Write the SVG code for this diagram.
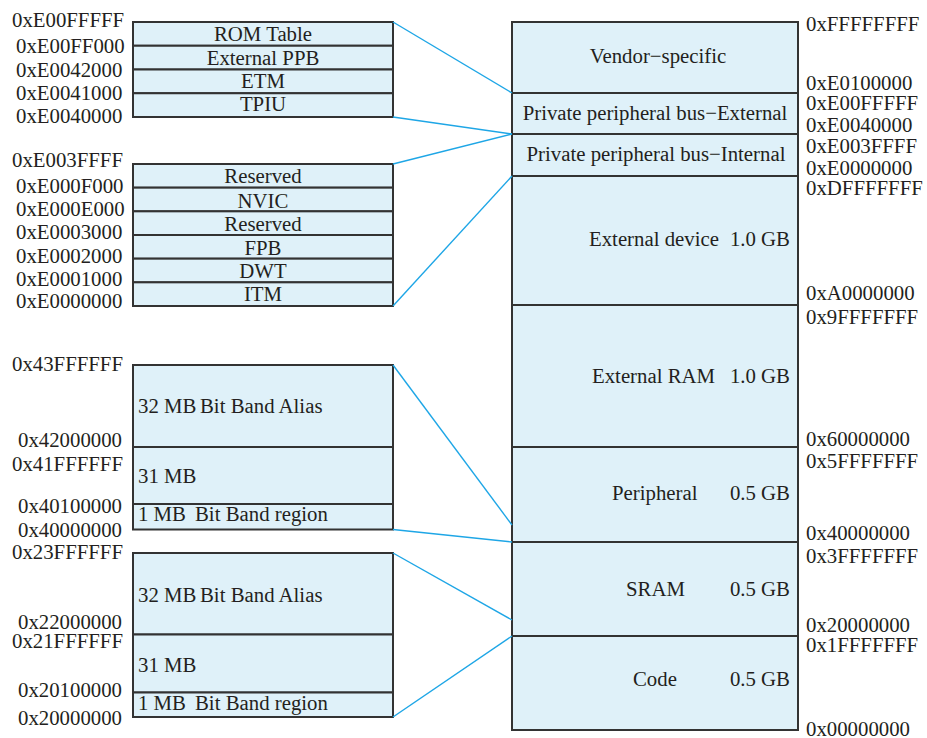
<svg xmlns="http://www.w3.org/2000/svg" width="927" height="738" viewBox="0 0 927 738">
  <style>
    .box { fill: #dff1f9; stroke: #333333; stroke-width: 2; }
    .lbl { font-size: 20.8px; fill: #231f20; }
    .mid { text-anchor: middle; }
    .end { text-anchor: end; }
    .link { stroke: #1ea6e6; stroke-width: 1.4; fill: none; }
  </style>
  <rect width="927" height="738" fill="#ffffff"/>
  <g font-family="'Liberation Serif', 'DejaVu Serif', serif">

  <!-- Memory map column -->
  <g id="vendor-specific">
    <rect class="box" x="512" y="22" width="286" height="71"/>
    <text class="lbl mid" x="658" y="63">Vendor−specific</text>
  </g>
  <g id="ppb-external">
    <rect class="box" x="512" y="93" width="286" height="41"/>
    <text class="lbl mid" x="655" y="120">Private peripheral bus−External</text>
  </g>
  <g id="ppb-internal">
    <rect class="box" x="512" y="134" width="286" height="42"/>
    <text class="lbl mid" x="656" y="161">Private peripheral bus−Internal</text>
  </g>
  <g id="external-device">
    <rect class="box" x="512" y="176" width="286" height="129"/>
    <text class="lbl" x="589" y="246">External device</text>
    <text class="lbl end" x="790" y="246">1.0 GB</text>
  </g>
  <g id="external-ram">
    <rect class="box" x="512" y="305" width="286" height="142"/>
    <text class="lbl" x="592" y="383">External RAM</text>
    <text class="lbl end" x="790" y="383">1.0 GB</text>
  </g>
  <g id="peripheral">
    <rect class="box" x="512" y="447" width="286" height="95"/>
    <text class="lbl" x="612" y="500">Peripheral</text>
    <text class="lbl end" x="790" y="500">0.5 GB</text>
  </g>
  <g id="sram">
    <rect class="box" x="512" y="542" width="286" height="94"/>
    <text class="lbl" x="626" y="596">SRAM</text>
    <text class="lbl end" x="790" y="596">0.5 GB</text>
  </g>
  <g id="code">
    <rect class="box" x="512" y="636" width="286" height="94"/>
    <text class="lbl" x="633" y="686">Code</text>
    <text class="lbl end" x="790" y="686">0.5 GB</text>
  </g>

  <!-- Addresses beside the memory map -->
  <g id="map-addresses">
    <text class="lbl" x="806" y="31">0xFFFFFFFF</text>
    <text class="lbl" x="806" y="90">0xE0100000</text>
    <text class="lbl" x="806" y="110">0xE00FFFFF</text>
    <text class="lbl" x="806" y="132">0xE0040000</text>
    <text class="lbl" x="806" y="153">0xE003FFFF</text>
    <text class="lbl" x="806" y="175">0xE0000000</text>
    <text class="lbl" x="806" y="195">0xDFFFFFFF</text>
    <text class="lbl" x="806" y="300">0xA0000000</text>
    <text class="lbl" x="806" y="324">0x9FFFFFFF</text>
    <text class="lbl" x="806" y="446">0x60000000</text>
    <text class="lbl" x="806" y="468">0x5FFFFFFF</text>
    <text class="lbl" x="806" y="540">0x40000000</text>
    <text class="lbl" x="806" y="563">0x3FFFFFFF</text>
    <text class="lbl" x="806" y="632">0x20000000</text>
    <text class="lbl" x="806" y="652">0x1FFFFFFF</text>
    <text class="lbl" x="806" y="736">0x00000000</text>
  </g>

  <!-- External PPB detail -->
  <g id="ppb-external-detail">
    <rect class="box" x="133" y="22" width="260" height="23.75"/>
    <rect class="box" x="133" y="45.75" width="260" height="23.75"/>
    <rect class="box" x="133" y="69.5" width="260" height="23.75"/>
    <rect class="box" x="133" y="93.25" width="260" height="23.75"/>
    <text class="lbl mid" x="263" y="41">ROM Table</text>
    <text class="lbl mid" x="263" y="65">External PPB</text>
    <text class="lbl mid" x="263" y="88">ETM</text>
    <text class="lbl mid" x="263" y="111">TPIU</text>
    <text class="lbl" x="12" y="26.5">0xE00FFFFF</text>
    <text class="lbl" x="16" y="52.5">0xE00FF000</text>
    <text class="lbl" x="16" y="76.5">0xE0042000</text>
    <text class="lbl" x="16" y="100">0xE0041000</text>
    <text class="lbl" x="16" y="123">0xE0040000</text>
  </g>

  <!-- Internal PPB detail -->
  <g id="ppb-internal-detail">
    <rect class="box" x="133" y="164" width="260" height="23.67"/>
    <rect class="box" x="133" y="187.67" width="260" height="23.67"/>
    <rect class="box" x="133" y="211.33" width="260" height="23.67"/>
    <rect class="box" x="133" y="235" width="260" height="23.67"/>
    <rect class="box" x="133" y="258.67" width="260" height="23.67"/>
    <rect class="box" x="133" y="282.33" width="260" height="23.67"/>
    <text class="lbl mid" x="263" y="183">Reserved</text>
    <text class="lbl mid" x="263" y="207.5">NVIC</text>
    <text class="lbl mid" x="263" y="231">Reserved</text>
    <text class="lbl mid" x="263" y="255">FPB</text>
    <text class="lbl mid" x="263" y="278">DWT</text>
    <text class="lbl mid" x="263" y="301">ITM</text>
    <text class="lbl" x="12" y="167">0xE003FFFF</text>
    <text class="lbl" x="16" y="192.5">0xE000F000</text>
    <text class="lbl" x="16" y="216">0xE000E000</text>
    <text class="lbl" x="16" y="239">0xE0003000</text>
    <text class="lbl" x="16" y="262.5">0xE0002000</text>
    <text class="lbl" x="16" y="286">0xE0001000</text>
    <text class="lbl" x="16" y="308">0xE0000000</text>
  </g>

  <!-- Peripheral bit-band detail -->
  <g id="peripheral-bitband">
    <rect class="box" x="133" y="365" width="260" height="82"/>
    <rect class="box" x="133" y="447" width="260" height="57"/>
    <rect class="box" x="133" y="504" width="260" height="25.5"/>
    <text class="lbl" x="138" y="413">32 MB</text>
    <text class="lbl" x="200" y="413">Bit Band Alias</text>
    <text class="lbl" x="138" y="483">31 MB</text>
    <text class="lbl" x="138" y="521">1 MB</text>
    <text class="lbl" x="195" y="521">Bit Band region</text>
    <text class="lbl" x="12" y="370.5">0x43FFFFFF</text>
    <text class="lbl" x="18" y="447">0x42000000</text>
    <text class="lbl" x="12" y="470.5">0x41FFFFFF</text>
    <text class="lbl" x="18" y="513">0x40100000</text>
    <text class="lbl" x="18" y="536.5">0x40000000</text>
  </g>

  <!-- SRAM bit-band detail -->
  <g id="sram-bitband">
    <rect class="box" x="133" y="553" width="260" height="81.5"/>
    <rect class="box" x="133" y="634.5" width="260" height="58"/>
    <rect class="box" x="133" y="692.5" width="260" height="24.5"/>
    <text class="lbl" x="138" y="601.5">32 MB</text>
    <text class="lbl" x="200" y="601.5">Bit Band Alias</text>
    <text class="lbl" x="138" y="671.5">31 MB</text>
    <text class="lbl" x="138" y="710">1 MB</text>
    <text class="lbl" x="195" y="710">Bit Band region</text>
    <text class="lbl" x="12" y="559">0x23FFFFFF</text>
    <text class="lbl" x="18" y="629">0x22000000</text>
    <text class="lbl" x="12" y="648">0x21FFFFFF</text>
    <text class="lbl" x="18" y="696.5">0x20100000</text>
    <text class="lbl" x="18" y="725">0x20000000</text>
  </g>
  </g>

  <!-- Expansion lines -->
  <g id="connectors">
    <line class="link" x1="393" y1="22" x2="512" y2="93"/>
    <line class="link" x1="393" y1="117" x2="512" y2="134"/>
    <line class="link" x1="393" y1="164" x2="512" y2="134"/>
    <line class="link" x1="393" y1="306" x2="512" y2="176"/>
    <line class="link" x1="393" y1="365" x2="512" y2="525"/>
    <line class="link" x1="393" y1="529.5" x2="512" y2="542"/>
    <line class="link" x1="393" y1="553" x2="512" y2="620"/>
    <line class="link" x1="393" y1="717" x2="512" y2="636"/>
  </g>
</svg>
